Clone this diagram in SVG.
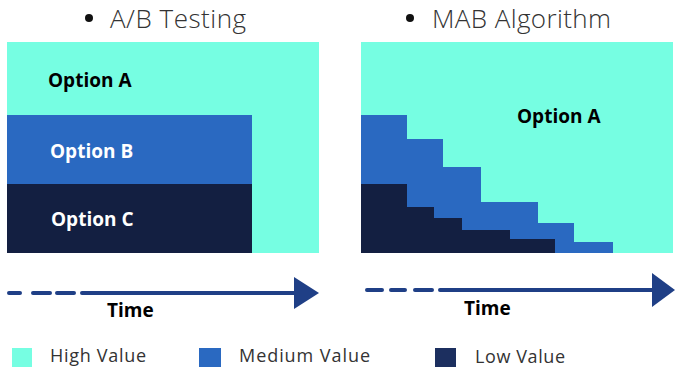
<svg xmlns="http://www.w3.org/2000/svg" width="675" height="367" viewBox="0 0 675 367">
<style>
.hi{fill:#76fee2}
.med{fill:#2a69c1}
.low{fill:#131f41}
.title{font-family:"Open Sans","Liberation Sans",sans-serif;font-weight:300;font-size:26px;fill:#333}
.lbl{font-family:"Open Sans","Liberation Sans",sans-serif;font-weight:700;font-size:19px}
.leg{font-family:"Open Sans","Liberation Sans",sans-serif;font-weight:400;font-size:18px;fill:#333}
.ax{stroke:#1f3f86;stroke-width:4;stroke-linecap:round;fill:none}
.head{fill:#1f3f86}
</style>
<rect width="675" height="367" fill="#fff"/>
<g id="title-ab">
<circle cx="89" cy="18" r="4" fill="#111"/>
<text class="title" x="110" y="28" textLength="136">A/B Testing</text>
</g>
<g id="title-mab">
<circle cx="410" cy="18" r="4" fill="#111"/>
<text class="title" x="432" y="28" textLength="179">MAB Algorithm</text>
</g>
<g id="ab-panel">
<rect class="hi" x="7" y="42" width="312" height="211"/>
<rect class="med" x="7" y="115" width="245" height="69"/>
<rect class="low" x="7" y="184" width="245" height="69"/>
<text class="lbl" x="48" y="87" fill="#000">Option A</text>
<text class="lbl" x="50" y="158" fill="#fff">Option B</text>
<text class="lbl" x="51" y="226" fill="#fff">Option C</text>
</g>
<g id="mab-panel">
<rect class="hi" x="361" y="42" width="312" height="211"/>
<path class="med" d="M361,115 H407 V139 H443 V167 H481 V202 H538 V223 H574 V242 H613 V253 H361 Z"/>
<path class="low" d="M361,184 H407 V207 H434 V218 H462 V230 H510 V239 H555 V253 H361 Z"/>
<text class="lbl" x="517" y="123" fill="#000">Option A</text>
</g>
<g id="connectors">
<path class="ax" d="M9,293 H20 M33,293 H50 M57,293 H74 M82,293 H296"/>
<polygon class="head" points="294,277 319,293 294,309"/>
<path class="ax" d="M367,290 H382 M391,290 H405 M415,290 H432 M440,290 H654"/>
<polygon class="head" points="652,273 675,290 652,307"/>
</g>
<g id="time-labels">
<text class="lbl" x="107" y="317" fill="#000">Time</text>
<text class="lbl" x="464" y="315" fill="#000">Time</text>
</g>
<g id="legend">
<rect class="hi" x="12" y="348" width="20" height="20"/>
<text class="leg" x="50" y="362" textLength="96">High Value</text>
<rect class="med" x="199" y="348" width="22" height="20"/>
<text class="leg" x="239" y="362" textLength="131">Medium Value</text>
<rect x="435" y="348" width="21" height="20" fill="#1c2f5f"/>
<text class="leg" x="475" y="363" textLength="90">Low Value</text>
</g>
</svg>
